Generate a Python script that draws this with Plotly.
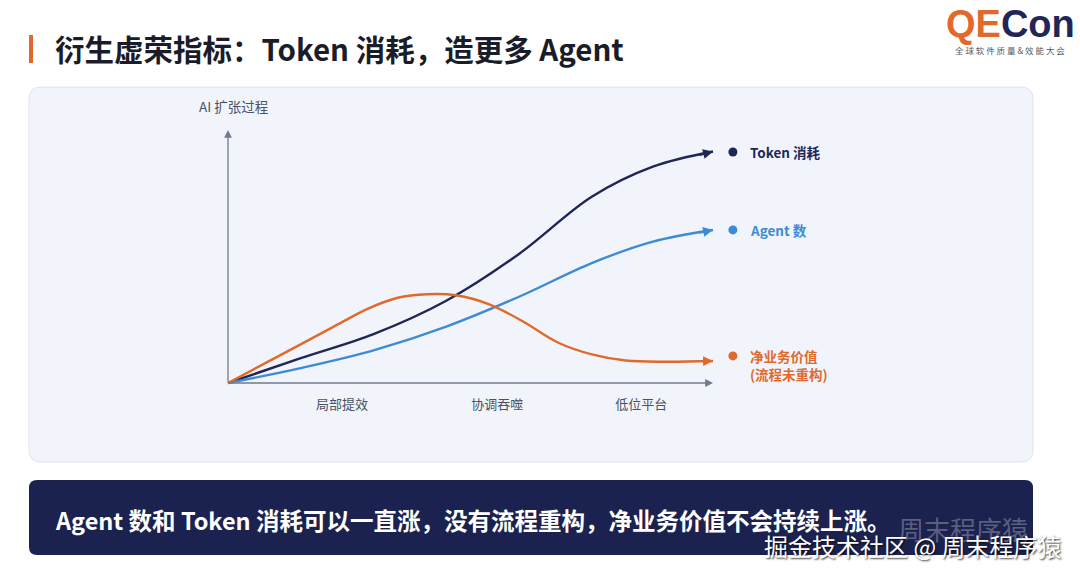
import plotly.graph_objects as go

# ---------------- data ----------------
token_x = [0, 15, 30, 45, 60, 75, 87.6, 100]
token_use = [0, 9.8, 19.3, 32.5, 51.0, 73.6, 85.5, 91.5]
agent_x = [0, 15, 30, 45, 60, 75, 87.6, 100]
agent_count = [0, 5.9, 12.9, 22.3, 34.1, 47.4, 55.9, 60.5]
value_x = [0, 11, 22, 29, 35, 41, 47, 54, 61, 68, 75, 82, 90, 100]
net_value = [0, 11.2, 22.5, 29.5, 33.7, 35.1, 34.7, 31.0, 24.1, 16.0, 11.3, 8.9, 8.4, 8.7]

series_names = ["Token 消耗", "Agent 数", "净业务价值<br>(流程未重构)"]
phase_ticks = [23.5, 55.5, 85.2]
phase_labels = ["局部提效", "协调吞噬", "低位平台"]
y_axis_title = "AI 扩张过程"
title_text = "衍生虚荣指标：Token 消耗，造更多 Agent"
banner_text = "Agent 数和 Token 消耗可以一直涨，没有流程重构，净业务价值不会持续上涨。"

# ---------------- styles ----------------
W, H = 1080, 578
FONT = "Noto Sans CJK SC"
NAVY = "#1f2658"
BLUE = "#3d8ad6"
ORANGE = "#e0692c"
AXIS = "#6f7b8c"
colors = [NAVY, BLUE, ORANGE]


def PX(x):
    return x / W


def PY(y):
    return 1 - y / H


def rounded_rect(x0, y0, x1, y1, r):
    rx, ry = r / W, r / H
    a, b, c, d = PX(x0), PY(y1), PX(x1), PY(y0)  # left, bottom, right, top
    return (f"M {a+rx},{b} L {c-rx},{b} Q {c},{b} {c},{b+ry} "
            f"L {c},{d-ry} Q {c},{d} {c-rx},{d} L {a+rx},{d} Q {a},{d} {a},{d-ry} "
            f"L {a},{b+ry} Q {a},{b} {a+rx},{b} Z")


fig = go.Figure()

series = [(token_x, token_use), (agent_x, agent_count), (value_x, net_value)]
for (xs, vals), col, name in zip(series, colors, series_names):
    fig.add_trace(go.Scatter(
        x=xs, y=vals, mode="lines", name=name,
        line=dict(color=col, width=2.4, shape="spline", smoothing=1.0),
        hoverinfo="skip", showlegend=False))

# legend-like dots at the right of the curves
dot_x = [104.1] * 3
dot_y = [91.3, 60.5, 10.7]
fig.add_trace(go.Scatter(
    x=dot_x, y=dot_y, mode="markers",
    marker=dict(color=colors, size=9), cliponaxis=False,
    hoverinfo="skip", showlegend=False))

annotations = []
# axis arrows
annotations.append(dict(x=100, y=0, ax=0, ay=0, xref="x", yref="y", axref="x", ayref="y",
                        text="", showarrow=True, arrowhead=2, arrowsize=1.2,
                        arrowwidth=1.3, arrowcolor=AXIS))
annotations.append(dict(x=0, y=100, ax=0, ay=0, xref="x", yref="y", axref="x", ayref="y",
                        text="", showarrow=True, arrowhead=2, arrowsize=1.2,
                        arrowwidth=1.3, arrowcolor=AXIS))
# curve end arrows
for (xs, vals), col in zip(series, colors):
    x1, y1 = xs[-1], vals[-1]
    x0, y0 = xs[-2], vals[-2]
    t = 0.75
    annotations.append(dict(x=x1, y=y1, ax=x0 + (x1 - x0) * t, ay=y0 + (y1 - y0) * t,
                            xref="x", yref="y", axref="x", ayref="y",
                            text="", showarrow=True, arrowhead=2, arrowsize=0.9,
                            arrowwidth=2.2, arrowcolor=col))
# series labels
label_y = [91.3, 60.5, 7.3]
for name, col, ly in zip(series_names, colors, label_y):
    annotations.append(dict(x=107.2, y=ly, xref="x", yref="y", text=f"<b>{name}</b>",
                            showarrow=False, xanchor="left", yanchor="middle", align="left",
                            font=dict(family=FONT, size=13.5, color=col)))

# y axis title
annotations.append(dict(x=PX(197), y=PY(106), xref="paper", yref="paper", text=y_axis_title,
                        showarrow=False, xanchor="left", yanchor="middle",
                        font=dict(family=FONT, size=13.5, color="#4a5262")))
# title
annotations.append(dict(x=PX(53), y=PY(48), xref="paper", yref="paper", text=f"<b>{title_text}</b>",
                        showarrow=False, xanchor="left", yanchor="middle",
                        font=dict(family=FONT, size=29.5, color="#1a1d29")))
# logo
annotations.append(dict(x=PX(1077), y=PY(24), xref="paper", yref="paper",
                        text=f"<b><span style='color:{ORANGE}'>QE</span><span style='color:{NAVY}'>Con</span></b>",
                        showarrow=False, xanchor="right", yanchor="middle",
                        font=dict(family="Liberation Sans", size=38, color=NAVY)))
annotations.append(dict(x=PX(1010), y=PY(49.5), xref="paper", yref="paper",
                        text="全 球 软 件 质 量 & 效 能 大 会",
                        showarrow=False, xanchor="center", yanchor="middle",
                        font=dict(family=FONT, size=8.5, color="#555b66")))
# banner text
annotations.append(dict(x=PX(53), y=PY(520), xref="paper", yref="paper", text=f"<b>{banner_text}</b>",
                        showarrow=False, xanchor="left", yanchor="middle",
                        font=dict(family=FONT, size=23.5, color="white")))
# watermark
annotations.append(dict(x=PX(896), y=PY(528), xref="paper", yref="paper", text="周末程序猿",
                        showarrow=False, xanchor="left", yanchor="middle",
                        font=dict(family=FONT, size=26, color="rgba(255,255,255,0.28)")))
annotations.append(dict(x=PX(1063), y=PY(545), xref="paper", yref="paper", text="掘金技术社区 @ 周末程序猿",
                        showarrow=False, xanchor="right", yanchor="middle",
                        font=dict(family=FONT, size=24, color="white",
                                  shadow="1px 1px 2px rgba(0,0,0,0.8)")))

shapes = [
    dict(type="path", xref="paper", yref="paper", path=rounded_rect(29, 87, 1033, 462, 12),
         fillcolor="#f1f5fb", line=dict(color="#dfe5ee", width=1), layer="below"),
    dict(type="path", xref="paper", yref="paper", path=rounded_rect(29, 480, 1033, 555, 8),
         fillcolor="#1c2250", line=dict(width=0), layer="below"),
    dict(type="rect", xref="paper", yref="paper", x0=PX(29), x1=PX(33), y0=PY(63), y1=PY(35),
         fillcolor=ORANGE, line=dict(width=0)),
]

# axes geometry: data x -> px = 228 + 4.85*x ; data y -> py = 383 - 2.53*y
x_rng = [-10, 140]
y_rng = [-3, 115]
x_dom = [PX(228 + 4.85 * x_rng[0]), PX(228 + 4.85 * x_rng[1])]
y_dom = [PY(383 - 2.53 * y_rng[0]), PY(383 - 2.53 * y_rng[1])]

fig.update_layout(
    width=W, height=H, margin=dict(l=0, r=0, t=0, b=0),
    paper_bgcolor="white", plot_bgcolor="rgba(0,0,0,0)",
    font=dict(family=FONT),
    xaxis=dict(domain=x_dom, range=x_rng, showgrid=False, zeroline=False, showline=False,
               tickvals=phase_ticks, ticktext=phase_labels, ticks="", ticklabelstandoff=4,
               tickfont=dict(family=FONT, size=13, color="#4a5262"), fixedrange=True),
    yaxis=dict(domain=y_dom, range=y_rng, showgrid=False, zeroline=False, showline=False,
               showticklabels=False, fixedrange=True),
    annotations=annotations, shapes=shapes, showlegend=False,
)

fig.write_html("out.html", config={"displayModeBar": False},
               post_script="document.body.style.margin='0';document.body.style.padding='0';")
